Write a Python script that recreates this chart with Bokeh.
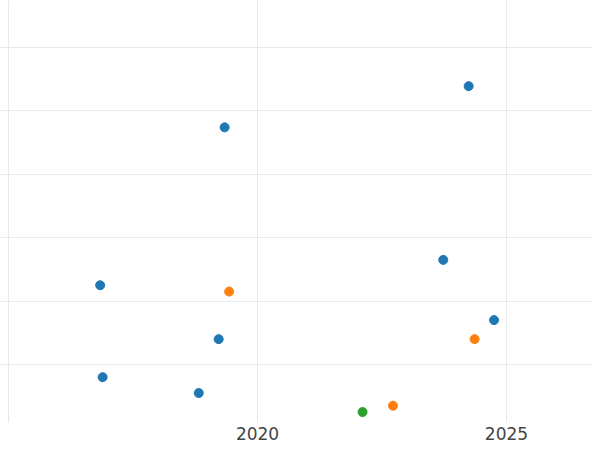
from bokeh.plotting import figure
from bokeh.models import FixedTicker, Range1d
from bokeh.embed import file_html
from bokeh.resources import INLINE

# Data
blue_x = [2019.34, 2024.24, 2016.84, 2019.22, 2016.89, 2018.82, 2023.73, 2024.75]
blue_y = [47.4, 53.9, 22.5, 14.0, 8.0, 5.5, 26.5, 17.0]
orange_x = [2019.43, 2024.36, 2022.72]
orange_y = [21.5, 14.0, 3.5]
green_x = [2022.11]
green_y = [2.5]

x_ticks = [2015, 2020, 2025]
y_ticks = [10, 20, 30, 40, 50, 60]

p = figure(width=592, height=442, output_backend="svg", toolbar_location=None,
           x_range=Range1d(2014.839, 2026.727), y_range=Range1d(0.85, 67.41),
           min_border_left=0, min_border_right=0, min_border_top=0, min_border_bottom=0)

p.outline_line_color = None
p.background_fill_color = "white"
p.border_fill_color = "white"

p.xaxis.ticker = FixedTicker(ticks=x_ticks)
p.yaxis.ticker = FixedTicker(ticks=y_ticks)
p.yaxis.visible = False
p.xaxis.axis_line_color = None
p.xaxis.major_tick_line_color = None
p.xaxis.minor_tick_line_color = None
p.xaxis.major_tick_out = 0
p.xaxis.major_tick_in = 0
p.xaxis.major_label_text_font = "DejaVu Sans"
p.xaxis.major_label_text_font_size = "17px"
p.xaxis.major_label_text_color = "#444444"
p.xaxis.major_label_standoff = 4
p.xaxis.major_label_overrides = {2015: ""}

p.xgrid.grid_line_color = "#e8e8e8"
p.ygrid.grid_line_color = "#e8e8e8"
p.xgrid.grid_line_width = 1
p.ygrid.grid_line_width = 1

p.scatter(blue_x, blue_y, size=9, fill_color="#1f77b4", line_color="#1f77b4")
p.scatter(orange_x, orange_y, size=9, fill_color="#ff7f0e", line_color="#ff7f0e")
p.scatter(green_x, green_y, size=9, fill_color="#2ca02c", line_color="#2ca02c")

open("out.html", "w").write(file_html(p, INLINE))
